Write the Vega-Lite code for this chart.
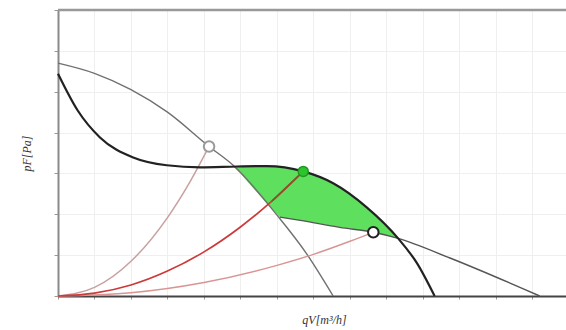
{
  "$schema": "https://vega.github.io/schema/vega-lite/v6.json",
  "width": 508,
  "height": 286,
  "autosize": {"type": "none"},
  "padding": {"left": 58, "top": 10, "right": 0, "bottom": 34},
  "background": "white",
  "config": {
    "view": {"stroke": null},
    "axis": {
      "labels": false,
      "grid": true,
      "gridColor": "#efefef",
      "gridWidth": 1,
      "tickColor": "#999999",
      "titleFont": "Liberation Serif",
      "titleFontStyle": "italic",
      "titleFontWeight": "normal",
      "titleFontSize": 12,
      "titleColor": "#333333"
    },
    "axisX": {
      "values": [0, 0.5, 1, 1.5, 2, 2.5, 3, 3.5, 4, 4.5, 5, 5.5, 6, 6.5],
      "tickSize": 3,
      "domainColor": "#444444",
      "domainWidth": 2,
      "titlePadding": 15,
      "titleX": 266
    },
    "axisY": {
      "values": [0, 1, 2, 3, 4, 5, 6, 7],
      "tickSize": 4,
      "domainColor": "#8a8a8a",
      "domainWidth": 2,
      "titlePadding": 20
    }
  },
  "datasets": {
    "curves": [
      {"curve": "A", "q": 0, "p": 5.70},
      {"curve": "A", "q": 0.5, "p": 5.45},
      {"curve": "A", "q": 1.0, "p": 5.05},
      {"curve": "A", "q": 1.5, "p": 4.50},
      {"curve": "A", "q": 2.07, "p": 3.66},
      {"curve": "A", "q": 2.4, "p": 3.20},
      {"curve": "A", "q": 3.0, "p": 1.98},
      {"curve": "A", "q": 3.4, "p": 1.05},
      {"curve": "A", "q": 3.77, "p": 0},
      {"curve": "B", "q": 0, "p": 5.44},
      {"curve": "B", "q": 0.27, "p": 4.54},
      {"curve": "B", "q": 0.575, "p": 3.88},
      {"curve": "B", "q": 1.03, "p": 3.39},
      {"curve": "B", "q": 1.49, "p": 3.20},
      {"curve": "B", "q": 1.95, "p": 3.15},
      {"curve": "B", "q": 2.45, "p": 3.17},
      {"curve": "B", "q": 2.86, "p": 3.18},
      {"curve": "B", "q": 3.36, "p": 3.05},
      {"curve": "B", "q": 3.77, "p": 2.76},
      {"curve": "B", "q": 4.23, "p": 2.17},
      {"curve": "B", "q": 4.66, "p": 1.41},
      {"curve": "B", "q": 4.92, "p": 0.80},
      {"curve": "B", "q": 5.16, "p": 0},
      {"curve": "D", "q": 3.04, "p": 1.93},
      {"curve": "D", "q": 3.32, "p": 1.85},
      {"curve": "D", "q": 3.86, "p": 1.68},
      {"curve": "D", "q": 4.32, "p": 1.56},
      {"curve": "D", "q": 4.66, "p": 1.41},
      {"curve": "D", "q": 5.37, "p": 0.93},
      {"curve": "D", "q": 6.60, "p": 0},
      {"curve": "P", "q": 0, "p": 0},
      {"curve": "P", "q": 0.5, "p": 0.21},
      {"curve": "P", "q": 1.0, "p": 0.85},
      {"curve": "P", "q": 1.5, "p": 1.92},
      {"curve": "P", "q": 1.81, "p": 2.80},
      {"curve": "P", "q": 2.07, "p": 3.66},
      {"curve": "C", "q": 0, "p": 0},
      {"curve": "C", "q": 0.5, "p": 0.07},
      {"curve": "C", "q": 1.0, "p": 0.27},
      {"curve": "C", "q": 1.5, "p": 0.61},
      {"curve": "C", "q": 2.0, "p": 1.08},
      {"curve": "C", "q": 2.5, "p": 1.69},
      {"curve": "C", "q": 2.93, "p": 2.32},
      {"curve": "C", "q": 3.36, "p": 3.05},
      {"curve": "E", "q": 0, "p": 0},
      {"curve": "E", "q": 1, "p": 0.08},
      {"curve": "E", "q": 2, "p": 0.33},
      {"curve": "E", "q": 3, "p": 0.75},
      {"curve": "E", "q": 3.5, "p": 1.02},
      {"curve": "E", "q": 4, "p": 1.34},
      {"curve": "E", "q": 4.32, "p": 1.56}
    ],
    "zone": [
      {"q": 2.40, "p": 3.17, "p2": 3.17},
      {"q": 2.50, "p": 3.17, "p2": 3.00},
      {"q": 2.70, "p": 3.18, "p2": 2.59},
      {"q": 2.86, "p": 3.18, "p2": 2.27},
      {"q": 3.04, "p": 3.15, "p2": 1.93},
      {"q": 3.32, "p": 3.07, "p2": 1.85},
      {"q": 3.50, "p": 2.97, "p2": 1.80},
      {"q": 3.86, "p": 2.68, "p2": 1.68},
      {"q": 4.00, "p": 2.47, "p2": 1.65},
      {"q": 4.23, "p": 2.17, "p2": 1.59},
      {"q": 4.32, "p": 2.01, "p2": 1.56},
      {"q": 4.50, "p": 1.69, "p2": 1.48},
      {"q": 4.66, "p": 1.41, "p2": 1.41}
    ],
    "points": [
      {"kind": "grey", "q": 2.07, "p": 3.66},
      {"kind": "green", "q": 3.36, "p": 3.05},
      {"kind": "black", "q": 4.32, "p": 1.56}
    ]
  },
  "layer": [
    {
      "data": {"name": "zone"},
      "mark": {"type": "area", "color": "#5ee05e", "opacity": 1},
      "encoding": {
        "x": {"field": "q", "type": "quantitative", "title": "qV[m³/h]", "scale": {"domain": [0, 6.96], "nice": false, "zero": false}},
        "y": {"field": "p", "type": "quantitative", "title": "pF[Pa]", "scale": {"domain": [0, 7], "nice": false, "zero": false}},
        "y2": {"field": "p2"}
      }
    },
    {
      "data": {"name": "curves"},
      "transform": [{"filter": "datum.curve === 'A'"}],
      "mark": {"type": "line", "color": "#707070", "strokeWidth": 1.4, "interpolate": "monotone"},
      "encoding": {
        "x": {"field": "q", "type": "quantitative", "title": "qV[m³/h]"},
        "y": {"field": "p", "type": "quantitative", "title": "pF[Pa]"}
      }
    },
    {
      "data": {"name": "curves"},
      "transform": [{"filter": "datum.curve === 'D'"}],
      "mark": {"type": "line", "color": "#555555", "strokeWidth": 1.4, "interpolate": "monotone"},
      "encoding": {
        "x": {"field": "q", "type": "quantitative", "title": "qV[m³/h]"},
        "y": {"field": "p", "type": "quantitative", "title": "pF[Pa]"}
      }
    },
    {
      "data": {"name": "curves"},
      "transform": [{"filter": "datum.curve === 'P'"}],
      "mark": {"type": "line", "color": "#c9a0a0", "strokeWidth": 1.5, "interpolate": "monotone"},
      "encoding": {
        "x": {"field": "q", "type": "quantitative", "title": "qV[m³/h]"},
        "y": {"field": "p", "type": "quantitative", "title": "pF[Pa]"}
      }
    },
    {
      "data": {"name": "curves"},
      "transform": [{"filter": "datum.curve === 'E'"}],
      "mark": {"type": "line", "color": "#d99494", "strokeWidth": 1.4, "interpolate": "monotone"},
      "encoding": {
        "x": {"field": "q", "type": "quantitative", "title": "qV[m³/h]"},
        "y": {"field": "p", "type": "quantitative", "title": "pF[Pa]"}
      }
    },
    {
      "data": {"name": "curves"},
      "transform": [{"filter": "datum.curve === 'C'"}],
      "mark": {"type": "line", "color": "#cc3a3a", "strokeWidth": 1.7, "interpolate": "monotone"},
      "encoding": {
        "x": {"field": "q", "type": "quantitative", "title": "qV[m³/h]"},
        "y": {"field": "p", "type": "quantitative", "title": "pF[Pa]"}
      }
    },
    {
      "data": {"name": "curves"},
      "transform": [{"filter": "datum.curve === 'C' && datum.q >= 2.93"}],
      "mark": {"type": "line", "color": "#7a5a2a", "strokeWidth": 1.7, "interpolate": "monotone"},
      "encoding": {
        "x": {"field": "q", "type": "quantitative", "title": "qV[m³/h]"},
        "y": {"field": "p", "type": "quantitative", "title": "pF[Pa]"}
      }
    },
    {
      "data": {"name": "curves"},
      "transform": [{"filter": "datum.curve === 'B'"}],
      "mark": {"type": "line", "color": "#222222", "strokeWidth": 2.2, "interpolate": "monotone"},
      "encoding": {
        "x": {"field": "q", "type": "quantitative", "title": "qV[m³/h]"},
        "y": {"field": "p", "type": "quantitative", "title": "pF[Pa]"}
      }
    },
    {
      "data": {"name": "points"},
      "transform": [{"filter": "datum.kind === 'grey'"}],
      "mark": {"type": "point", "filled": true, "fill": "#ffffff", "stroke": "#9a9a9a", "strokeWidth": 2, "size": 110, "opacity": 1},
      "encoding": {
        "x": {"field": "q", "type": "quantitative", "title": "qV[m³/h]"},
        "y": {"field": "p", "type": "quantitative", "title": "pF[Pa]"}
      }
    },
    {
      "data": {"name": "points"},
      "transform": [{"filter": "datum.kind === 'green'"}],
      "mark": {"type": "point", "filled": true, "fill": "#2fc42f", "stroke": "#1f9a1f", "strokeWidth": 1.5, "size": 100, "opacity": 1},
      "encoding": {
        "x": {"field": "q", "type": "quantitative", "title": "qV[m³/h]"},
        "y": {"field": "p", "type": "quantitative", "title": "pF[Pa]"}
      }
    },
    {
      "data": {"name": "points"},
      "transform": [{"filter": "datum.kind === 'black'"}],
      "mark": {"type": "point", "filled": true, "fill": "#ffffff", "stroke": "#222222", "strokeWidth": 2, "size": 110, "opacity": 1},
      "encoding": {
        "x": {"field": "q", "type": "quantitative", "title": "qV[m³/h]"},
        "y": {"field": "p", "type": "quantitative", "title": "pF[Pa]"}
      }
    },
    {
      "data": {"values": [{"top": 7}]},
      "mark": {"type": "rule", "color": "#999999", "strokeWidth": 2.5},
      "encoding": {
        "y": {"field": "top", "type": "quantitative", "title": "pF[Pa]"}
      }
    }
  ]
}
